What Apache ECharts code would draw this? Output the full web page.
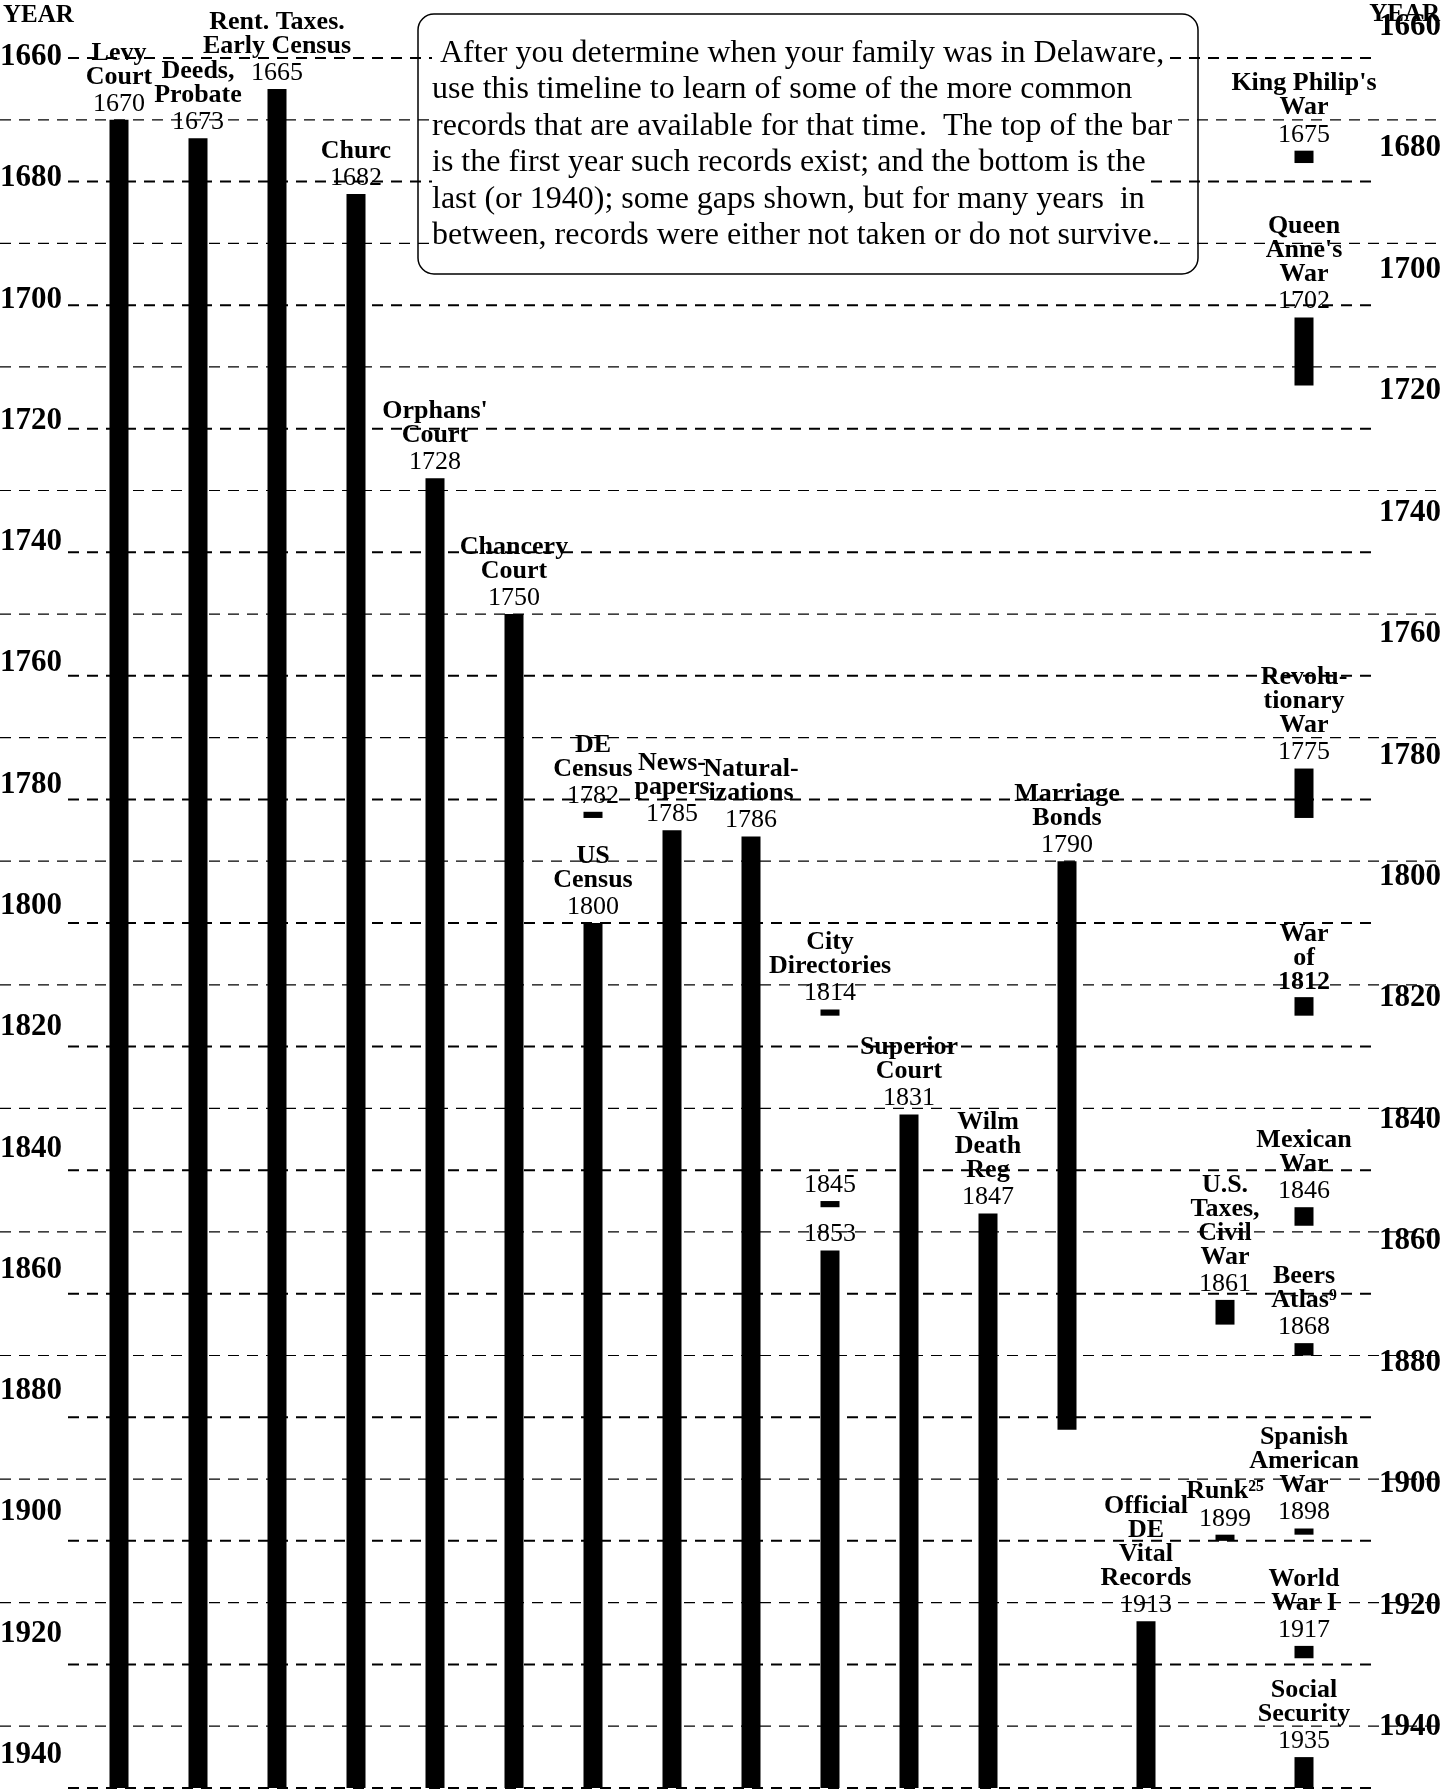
<!DOCTYPE html>
<html><head><meta charset="utf-8">
<script src="https://cdn.jsdelivr.net/npm/echarts@6/dist/echarts.min.js"></script>
<style>html,body{margin:0;padding:0;background:#fff}#c{width:1442px;height:1791px}</style>
</head><body><div id="c"></div><script>
// Columns of the timeline (one bar slot each)
const columns = ['Levy Court','Deeds, Probate','Rent. Taxes. Early Census','Church',"Orphans' Court",'Chancery Court','Census','Newspapers','Naturalizations','Directories','Superior Court','Wilm Death Reg','Marriage Bonds','Official DE Vital Records','U.S. Taxes / Runk','Wars'];

// Records: name label, column, first year, last year, year label
const recLabels = ['Levy\nCourt','Deeds,\nProbate','Rent. Taxes.\nEarly Census','Churc',"Orphans'\nCourt",'Chancery\nCourt','DE\nCensus','US\nCensus','News-\npapers','Natural-\nizations','City\nDirectories','','','Superior\nCourt','Wilm\nDeath\nReg','Marriage\nBonds','Official\nDE\nVital\nRecords','U.S.\nTaxes,\nCivil\nWar','Runk\u00b2\u2075',"King Philip's\nWar","Queen\nAnne's\nWar",'Revolu-\ntionary\nWar','War\nof\n1812','Mexican\nWar','Beers\nAtlas\u2079','Spanish\nAmerican\nWar','World\nWar I','Social\nSecurity'];
const recColumn = ['Levy Court','Deeds, Probate','Rent. Taxes. Early Census','Church',"Orphans' Court",'Chancery Court','Census','Census','Newspapers','Naturalizations','Directories','Directories','Directories','Superior Court','Wilm Death Reg','Marriage Bonds','Official DE Vital Records','U.S. Taxes / Runk','U.S. Taxes / Runk','Wars','Wars','Wars','Wars','Wars','Wars','Wars','Wars','Wars'];
const recStart = [1670,1673,1665,1682,1728,1750,1782,1800,1785,1786,1814,1845,1853,1831,1847,1790,1913,1861,1899,1675,1702,1775,1812,1846,1868,1898,1917,1935];
const recEnd   = [1940,1940,1940,1940,1940,1940,1783,1940,1940,1940,1815,1846,1940,1940,1940,1882,1940,1865,1900,1677,1713,1783,1815,1849,1870,1899,1919,1940];
const recYearText = ['1670','1673','1665','1682','1728','1750','1782','1800','1785','1786','1814','1845','1853','1831','1847','1790','1913','1861','1899','1675','1702','1775','','1846','1868','1898','1917','1935'];

// Gridline years and axis tick labels
const majorYears = [1660,1680,1700,1720,1740,1760,1780,1800,1820,1840,1860,1880,1900,1920,1940];
const minorYears = [1670,1690,1710,1730,1750,1770,1790,1810,1830,1850,1870,1890,1910,1930];

// Note text
const noteLines = [
  ' After you determine when your family was in Delaware,',
  'use this timeline to learn of some of the more common',
  'records that are available for that time.  The top of the bar',
  'is the first year such records exist; and the bottom is the',
  'last (or 1940); some gaps shown, but for many years  in',
  'between, records were either not taken or do not survive.'
];

const SERIF = '"Liberation Serif", "Times New Roman", serif';

const gridData = majorYears.map(y => [0, y, 1]).concat(minorYears.map(y => [0, y, 0]));
const recData = recStart.map((s, i) => [columns.indexOf(recColumn[i]), s, recEnd[i]]);

function renderGridline(params, api) {
  const y = api.coord([0, api.value(1)])[1];
  const major = api.value(2) === 1;
  const W = api.getWidth();
  return {
    type: 'line',
    shape: { x1: major ? 68 : 0, y1: y, x2: major ? 1373 : W, y2: y },
    style: { stroke: '#000', lineWidth: major ? 2 : 1.2, lineDash: [11, 8] }
  };
}

function renderRecord(params, api) {
  const i = params.dataIndex;
  const col = api.value(0);
  const p0 = api.coord([col, api.value(1)]);
  const p1 = api.coord([col, api.value(2)]);
  const w = 19;
  const children = [{
    type: 'rect',
    shape: { x: p0[0] - w / 2, y: p0[1], width: w, height: Math.max(p1[1] - p0[1], 5) },
    style: { fill: '#000' }
  }];
  let bottom = p0[1] - 3;
  const yr = recYearText[i];
  if (yr) {
    children.push({ type: 'text', style: { text: yr, x: p0[0], y: bottom, align: 'center', textAlign: 'center', verticalAlign: 'bottom', textVerticalAlign: 'bottom', font: '26px ' + SERIF, fill: '#000' } });
    bottom -= 28;
  }
  if (recLabels[i]) {
    children.push({ type: 'text', style: { text: recLabels[i], x: p0[0], y: bottom, align: 'center', textAlign: 'center', verticalAlign: 'bottom', textVerticalAlign: 'bottom', font: 'bold 26px ' + SERIF, lineHeight: 24, fill: '#000' } });
  }
  return { type: 'group', children };
}

const yLabelStyle = { color: '#000', fontFamily: SERIF, fontWeight: 'bold', fontSize: 31, formatter: v => String(v) };

const graphics = [
  { type: 'text', left: 3, top: 3, z: 50, style: { text: 'YEAR', font: 'bold 25px ' + SERIF, fill: '#000' } },
  { type: 'text', right: 2, top: 2, z: 50, style: { text: 'YEAR', font: 'bold 25px ' + SERIF, fill: '#000' } },
  { type: 'rect', z: 1, shape: { x: 418, y: 14, width: 780, height: 260, r: 16 }, style: { fill: '#fff', stroke: '#000', lineWidth: 1.5 } }
];
noteLines.forEach((t, k) => {
  graphics.push({ type: 'text', z: 60, x: 432, y: 35 + k * 36.5,
    style: { text: t, font: '32px ' + SERIF, fill: '#000', lineHeight: 36.5, backgroundColor: '#fff', verticalAlign: 'top', textVerticalAlign: 'top' } });
});

const option = {
  animation: false,
  backgroundColor: '#fff',
  grid: [
    { left: 79.5, right: 98.5, top: 58, bottom: 3, outerBoundsMode: 'none' },
    { left: 63, width: 1, top: 57, bottom: 36, outerBoundsMode: 'none' },
    { left: 1376, width: 1, top: 27, bottom: 64, outerBoundsMode: 'none' }
  ],
  xAxis: [
    { gridIndex: 0, type: 'category', data: columns, show: false },
    { gridIndex: 1, type: 'value', show: false },
    { gridIndex: 2, type: 'value', show: false }
  ],
  yAxis: [
    { gridIndex: 0, type: 'value', inverse: true, min: 1660, max: 1940, show: false },
    { gridIndex: 1, type: 'value', inverse: true, min: 1660, max: 1940, interval: 20, position: 'left',
      axisLine: { show: false }, axisTick: { show: false }, splitLine: { show: false },
      axisLabel: Object.assign({ margin: 1 }, yLabelStyle) },
    { gridIndex: 2, type: 'value', inverse: true, min: 1660, max: 1940, interval: 20, position: 'right',
      axisLine: { show: false }, axisTick: { show: false }, splitLine: { show: false },
      axisLabel: Object.assign({ margin: 2 }, yLabelStyle) }
  ],
  graphic: graphics,
  series: [
    { type: 'custom', xAxisIndex: 0, yAxisIndex: 0, z: 2, silent: true, clip: false,
      renderItem: renderGridline, data: gridData, encode: { x: 0, y: 1 } },
    { type: 'custom', xAxisIndex: 0, yAxisIndex: 0, z: 3, silent: true, clip: false,
      renderItem: renderRecord, data: recData, encode: { x: 0, y: [1, 2] } }
  ]
};

const chart = echarts.init(document.getElementById('c'));
chart.setOption(option);
</script></body></html>
